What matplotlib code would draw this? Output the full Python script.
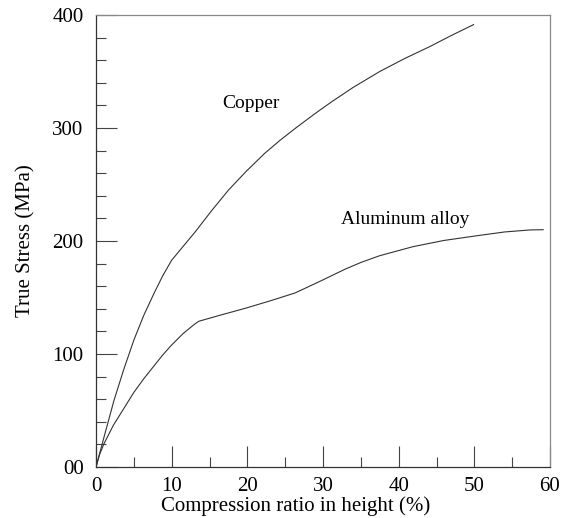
import matplotlib
matplotlib.use("Agg")
import matplotlib.pyplot as plt
from matplotlib.ticker import MultipleLocator

# Curves (compression %, true stress MPa)
copper_x = [0, 1.06, 2.38, 3.7, 5.02, 6.3, 7.67, 8.8, 10, 13.1, 15.3, 17.5,
            19.9, 22.3, 24.3, 26.3, 29.0, 31.1, 34.0, 37.5, 40.8, 44.1,
            47.0, 49.9]
copper_y = [0, 26.5, 59, 87, 112.6, 134, 153.7, 169, 183, 208, 227, 245,
            262, 277.6, 289, 299.5, 313, 323, 336, 350, 361.5, 372,
            382, 391.5]

alu_x = [0, 0.5, 1.06, 2.3, 3.7, 5.0, 6.3, 7.67, 8.8, 10, 11.5, 12.95, 13.6,
         16.5, 19.7, 23, 26.3, 29.5, 32.9, 35, 37.5, 41.9, 46, 50.7, 54,
         57.4, 59.1]
alu_y = [0, 11.5, 20.7, 37, 52, 66, 78, 89.5, 99, 108, 118, 126, 129,
         134.5, 140.4, 147, 154, 164, 175, 181, 187, 195, 200.5, 205, 208,
         209.8, 210]

y_ticks = [0, 100, 200, 300, 400]
y_tick_labels = ['00', '100', '200', '300', '400']
x_ticks = [0, 10, 20, 30, 40, 50, 60]

plt.rcParams['font.family'] = ['Liberation Serif', 'DejaVu Serif']

fig = plt.figure(figsize=(5.69, 5.18), dpi=100)
ax = fig.add_axes([96 / 569, 1 - 467 / 518, 454 / 569, 452 / 518])

line_col = '#333333'
ax.plot(copper_x, copper_y, color=line_col, lw=0.8)
ax.plot(alu_x, alu_y, color=line_col, lw=0.8)

ax.text(16.65, 322, 'Copper', fontsize=14, va='center')
ax.text(32.4, 219, 'Aluminum alloy', fontsize=14, va='center')

ax.set_xlim(0, 60)
ax.set_ylim(0, 400)
ax.set_xticks(x_ticks)
ax.set_yticks(y_ticks)
ax.set_yticklabels(y_tick_labels)
ax.xaxis.set_minor_locator(MultipleLocator(5))
ax.yaxis.set_minor_locator(MultipleLocator(20))

ax.tick_params(which='both', direction='in', top=False, right=False,
               labelsize=15, color='#444444')
ax.tick_params(which='major', length=15, width=0.8)
ax.tick_params(axis='x', which='major', pad=7)
ax.tick_params(axis='y', which='major', pad=9)
ax.tick_params(which='minor', length=7, width=0.8)

for side in ['left', 'bottom']:
    ax.spines[side].set_color('#333333')
    ax.spines[side].set_linewidth(0.9)
for side in ['top', 'right']:
    ax.spines[side].set_color('#888888')
    ax.spines[side].set_linewidth(0.9)

ax.set_xlabel('Compression ratio in height (%)', fontsize=15)
ax.xaxis.set_label_coords(0.44, -0.065)
ax.set_ylabel('True Stress (MPa)', fontsize=15, labelpad=12)

fig.savefig('out.png', dpi=100)
